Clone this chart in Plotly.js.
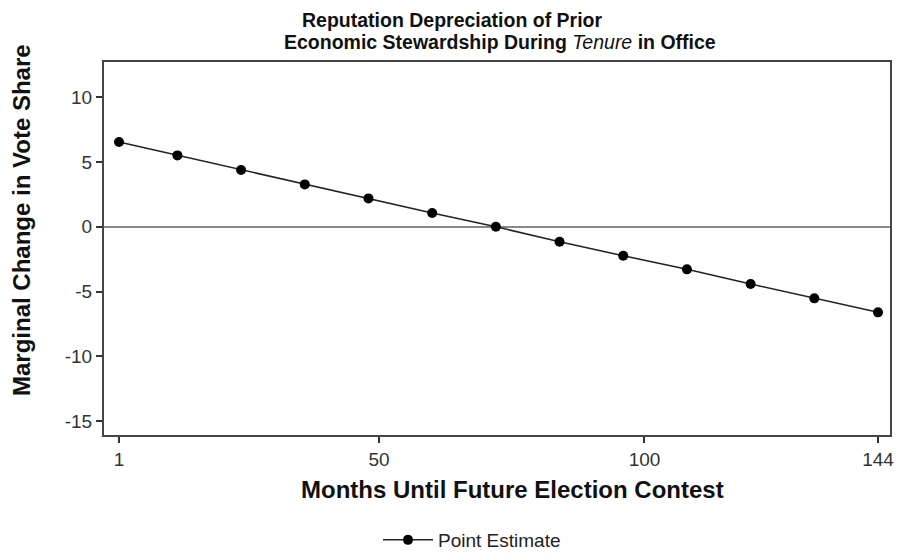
<!DOCTYPE html>
<html>
<head>
<meta charset="utf-8">
<script src="https://cdn.plot.ly/plotly-3.0.1.min.js"></script>
<style>body{margin:0;background:#fff}#chart{width:900px;height:553px}</style>
</head>
<body>
<div id="chart"></div>
<script>
const months = [1, 12, 24, 36, 48, 60, 72, 84, 96, 108, 120, 132, 144];
const pointEstimate = [6.54, 5.51, 4.38, 3.27, 2.19, 1.06, 0.0, -1.16, -2.24, -3.29, -4.42, -5.53, -6.61];
const xTickVals = [1, 50, 100, 144];
const yTickVals = [-15, -10, -5, 0, 5, 10];
const seriesName = 'Point Estimate';
const titleLine1 = '<b>Reputation Depreciation of Prior</b>';
const titleLine2 = '<b>Economic Stewardship During </b><i>Tenure</i><b> in Office</b>';
const xTitle = '<b>Months Until Future Election Contest</b>';
const yTitle = '<b>Marginal Change in Vote Share</b>';

const FONT = '"Liberation Sans", Arial, sans-serif';
const W = 900, H = 553, L = 104, R = 10, T = 62, B = 118;
const PW = W - L - R, PH = H - T - B;
const px = x => (x - L) / PW;
const py = y => (H - B - y) / PH;

const traces = [{
  x: months,
  y: pointEstimate,
  type: 'scatter',
  mode: 'lines+markers',
  name: seriesName,
  line: {color: '#222', width: 1.5},
  marker: {color: '#000', size: 10}
}];

const layout = {
  width: W, height: H,
  margin: {l: L, r: R, t: T, b: B, autoexpand: false},
  paper_bgcolor: '#fff', plot_bgcolor: '#fff',
  font: {family: FONT, color: '#111'},
  showlegend: true,
  legend: {orientation: 'h', x: px(472), xanchor: 'center', y: py(540), yanchor: 'middle',
           font: {size: 19, family: FONT, color: '#222'}, itemwidth: 50},
  xaxis: {
    range: [-1.83, 146.26], tickvals: xTickVals, ticktext: xTickVals.map(String),
    ticks: 'outside', ticklen: 6, tickwidth: 1.5, tickcolor: '#333',
    showline: true, linecolor: '#444', linewidth: 2, mirror: true,
    showgrid: false, zeroline: false, automargin: false,
    tickfont: {size: 19, family: FONT, color: '#333'}
  },
  yaxis: {
    range: [-16.08, 12.72], tickvals: yTickVals, ticktext: yTickVals.map(String),
    ticks: 'outside', ticklen: 6, tickwidth: 1.5, tickcolor: '#333',
    showline: true, linecolor: '#444', linewidth: 2, mirror: true,
    showgrid: false, zeroline: true, zerolinecolor: '#888', zerolinewidth: 2, automargin: false,
    tickfont: {size: 19, family: FONT, color: '#333'}
  },
  annotations: [
    {text: titleLine1, xref: 'paper', yref: 'paper', x: px(452), y: py(20),
     xanchor: 'center', yanchor: 'middle', showarrow: false,
     font: {size: 19.5, family: FONT, color: '#111'}},
    {text: titleLine2, xref: 'paper', yref: 'paper', x: px(500), y: py(42),
     xanchor: 'center', yanchor: 'middle', showarrow: false,
     font: {size: 19.5, family: FONT, color: '#111'}},
    {text: xTitle, xref: 'paper', yref: 'paper', x: px(512), y: py(489),
     xanchor: 'center', yanchor: 'middle', showarrow: false,
     font: {size: 24, family: FONT, color: '#111'}},
    {text: yTitle, xref: 'paper', yref: 'paper', x: px(22), y: py(220),
     xanchor: 'center', yanchor: 'middle', showarrow: false, textangle: -90,
     font: {size: 24, family: FONT, color: '#111'}}
  ]
};

Plotly.newPlot('chart', traces, layout, {displayModeBar: false});
</script>
</body>
</html>
